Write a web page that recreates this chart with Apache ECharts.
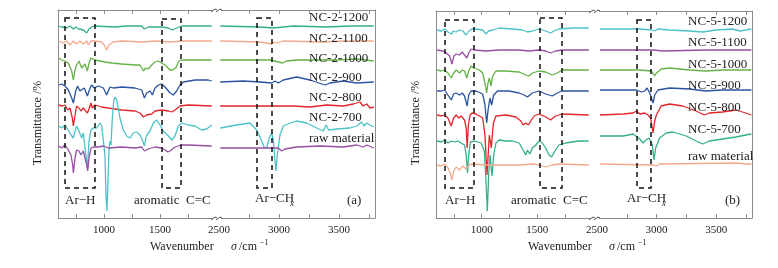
<!DOCTYPE html>
<html>
<head>
<meta charset="utf-8">
<script src="https://cdn.jsdelivr.net/npm/echarts@6/dist/echarts.min.js"></script>
<style>
html, body { margin: 0; padding: 0; background: #fff; }
#chart { width: 778px; height: 268px; }
</style>
</head>
<body>
<div id="chart"></div>
<script>
// FTIR spectra, [wavenumber cm-1, transmittance (offset, a.u.)]
var nc2_1200 = [[595,192],[623,191],[667,190],[697,192],[727,189],[748,191],[777,189],[816,188],[846,185],[867,189],[890,191],[914,192],[1100,191],[1200,192],[1337,192],[1361,189],[1396,191],[1515,191],[1575,190],[1611,188],[1649,190],[1694,192],[1962,192],
    [2510,192],[2842,191],[2953,190],[3120,192],[3397,191],[3592,192],[3790,192]];
var nc2_1100 = [[595,177],[637,175],[667,177],[697,173],[727,177],[756,174],[786,177],[816,174],[846,177],[861,173],[884,177],[914,177],[980,176],[1009,172],[1024,168],[1045,173],[1084,176],[1158,177],[1352,176],[1456,177],[1590,176],[1694,177],[1962,177],
    [2510,177],[2842,176],[2939,174],[2958,176],[2981,175],[3036,177],[3369,176],[3536,177],[3790,177]];
var nc2_1000 = [[595,160],[623,158],[652,157],[682,155],[712,147],[727,138],[742,148],[756,153],[777,157],[801,150],[816,152],[831,154],[852,147],[867,155],[884,160],[896,160],[920,158],[1009,156],[1069,155],[1158,154],[1277,153],[1322,153],[1352,147],[1372,150],[1396,149],[1426,153],[1456,156],[1486,157],[1515,155],[1545,153],[1590,148],[1611,148],[1640,150],[1670,157],[1694,158],[1962,158],
    [2510,158],[2925,158],[3030,155],[3064,157],[3147,158],[3481,158],[3647,159],[3790,157]];
var nc2_900 = [[595,133],[623,134],[652,132],[682,128],[712,120],[727,115],[748,127],[765,132],[786,127],[801,128],[825,130],[852,122],[870,128],[890,133],[914,130],[950,132],[995,130],[1024,123],[1054,131],[1084,130],[1158,131],[1277,130],[1337,128],[1361,120],[1381,125],[1411,127],[1432,123],[1456,130],[1486,133],[1515,134],[1545,131],[1590,125],[1619,123],[1649,127],[1679,133],[1709,136],[1813,138],[1932,138],[1962,137],
    [2510,136],[2703,137],[2842,136],[2939,135],[2967,137],[2994,135],[3036,138],[3147,141],[3258,138],[3383,133],[3425,135],[3536,137],[3647,135],[3790,136]];
var nc2_800 = [[595,113],[608,115],[628,112],[652,113],[676,108],[697,110],[718,100],[727,92],[742,103],[756,112],[777,110],[795,107],[816,110],[831,112],[852,105],[870,110],[884,115],[896,110],[920,113],[980,111],[1039,110],[1158,108],[1277,107],[1322,105],[1352,101],[1381,103],[1426,104],[1456,107],[1515,108],[1575,107],[1605,106],[1634,108],[1679,112],[1753,113],[1962,112],
    [2510,112],[2842,112],[2953,112],[3120,112],[3258,111],[3397,113],[3536,112],[3620,114],[3675,116],[3700,112],[3731,114],[3760,110],[3790,111]];
var nc2_700 = [[595,92],[623,90],[652,93],[682,88],[706,83],[727,80],[742,87],[756,92],[777,87],[801,80],[816,85],[831,83],[852,50],[867,77],[884,88],[905,90],[935,90],[965,95],[980,92],[995,77],[1009,63],[1018,23],[1027,7],[1036,37],[1045,67],[1054,77],[1063,73],[1075,100],[1087,117],[1099,121],[1114,118],[1143,100],[1173,88],[1203,82],[1233,80],[1262,85],[1292,86],[1322,83],[1343,78],[1361,72],[1378,82],[1411,87],[1441,95],[1471,98],[1500,93],[1530,87],[1575,82],[1605,78],[1634,82],[1664,92],[1694,95],[1753,93],[1813,92],[1872,88],[1917,89],[1962,93],
    [2510,90],[2647,93],[2758,95],[2814,88],[2856,77],[2875,71],[2897,70],[2919,80],[2939,85],[2953,77],[2967,57],[2975,47],[2986,63],[3008,83],[3036,92],[3092,95],[3147,97],[3231,95],[3314,90],[3369,87],[3392,93],[3414,88],[3481,89],[3592,90],[3647,92],[3689,96],[3708,92],[3731,95],[3758,93],[3790,91]];
var nc2_raw = [[595,72],[623,70],[652,73],[682,68],[706,63],[721,53],[727,45],[742,60],[756,68],[777,67],[795,63],[816,67],[831,65],[846,53],[855,47],[867,60],[884,70],[905,71],[950,71],[995,72],[1039,70],[1158,71],[1277,70],[1337,71],[1361,67],[1396,69],[1456,71],[1515,70],[1545,68],[1569,66],[1590,67],[1634,71],[1694,73],[1753,73],[1962,72],
    [2510,70],[2842,70],[2994,70],[3022,67],[3050,69],[3147,71],[3342,72],[3536,71],[3647,73],[3703,71],[3731,73],[3790,70]];

var nc5_1200 = [[600,188],[637,187],[667,189],[697,186],[727,184],[748,187],[771,186],[801,188],[831,187],[861,183],[884,187],[914,189],[950,189],[1009,188],[1039,184],[1063,187],[1099,188],[1158,190],[1277,189],[1367,188],[1411,186],[1456,187],[1515,189],[1575,187],[1619,185],[1649,187],[1694,189],[1813,190],[1962,190],
    [2525,189],[2859,189],[2956,188],[2984,187],[3011,189],[3109,188],[3275,187],[3386,186],[3498,188],[3637,189],[3700,187],[3748,188],[3795,189]];
var nc5_1100 = [[600,168],[652,167],[682,165],[712,162],[733,154],[751,162],[771,164],[801,163],[825,166],[846,163],[867,160],[884,165],[905,169],[935,168],[1039,167],[1158,168],[1337,168],[1426,167],[1515,168],[1575,167],[1619,165],[1664,167],[1724,168],[1962,168],
    [2525,168],[2970,168],[3053,167],[3414,168],[3795,168]];
var nc5_1000 = [[600,148],[637,147],[667,148],[697,145],[727,140],[748,145],[771,148],[801,145],[825,148],[846,147],[867,140],[884,147],[905,152],[926,150],[980,148],[1009,145],[1033,133],[1045,125],[1057,135],[1069,140],[1084,132],[1099,142],[1128,147],[1218,147],[1337,146],[1396,143],[1426,142],[1456,145],[1515,147],[1575,146],[1634,143],[1679,145],[1724,148],[1962,148],
    [2525,148],[2859,148],[2956,147],[2984,142],[2998,145],[3039,149],[3109,150],[3275,148],[3414,147],[3553,148],[3795,148]];
var nc5_900 = [[600,127],[637,127],[667,128],[697,123],[727,118],[748,124],[771,125],[801,123],[825,125],[846,122],[870,112],[884,123],[905,127],[950,127],[1009,124],[1030,113],[1045,95],[1060,110],[1075,120],[1090,113],[1108,123],[1143,127],[1248,127],[1337,125],[1381,123],[1411,121],[1456,125],[1515,127],[1575,124],[1634,122],[1679,125],[1724,127],[1962,127],
    [2525,128],[2831,128],[2873,126],[2900,127],[2920,130],[2942,125],[2970,115],[2984,123],[3011,128],[3109,130],[3275,129],[3414,127],[3553,128],[3664,128],[3795,128]];
var nc5_800 = [[600,103],[637,102],[667,103],[697,100],[727,92],[748,100],[771,103],[795,100],[816,102],[846,98],[861,90],[870,70],[881,93],[896,103],[914,105],[950,104],[1009,100],[1030,83],[1048,43],[1069,83],[1087,70],[1105,95],[1128,102],[1218,103],[1307,101],[1352,97],[1372,93],[1396,95],[1420,93],[1441,97],[1471,102],[1515,104],[1575,101],[1619,98],[1664,102],[1724,104],[1962,103],
    [2525,103],[2720,104],[2803,105],[2831,107],[2859,104],[2900,105],[2928,103],[2950,100],[2970,85],[2984,97],[2998,103],[3039,112],[3109,114],[3220,112],[3331,107],[3400,103],[3442,105],[3553,106],[3664,108],[3748,105],[3795,103]];
var nc5_700 = [[600,77],[637,76],[667,78],[697,75],[727,77],[756,76],[786,77],[816,75],[846,73],[861,63],[873,45],[884,63],[899,76],[935,77],[995,75],[1024,67],[1039,37],[1051,7],[1063,43],[1075,63],[1093,42],[1108,63],[1128,75],[1158,78],[1218,77],[1277,77],[1337,75],[1372,68],[1396,63],[1411,68],[1432,64],[1456,70],[1486,73],[1515,77],[1545,75],[1575,70],[1605,63],[1628,61],[1658,67],[1694,73],[1753,75],[1872,77],[1962,77],
    [2525,82],[2720,82],[2803,84],[2859,79],[2886,75],[2909,78],[2936,80],[2964,73],[2978,58],[2992,70],[3025,80],[3081,85],[3137,86],[3248,82],[3331,77],[3386,74],[3442,77],[3553,79],[3664,81],[3748,83],[3795,84]];
var nc5_raw = [[600,53],[637,52],[667,54],[697,50],[718,45],[733,38],[748,47],[771,51],[801,48],[831,52],[861,49],[884,53],[920,54],[1039,53],[1158,53],[1337,53],[1456,54],[1515,53],[1575,51],[1634,53],[1694,54],[1962,53],
    [2525,54],[2970,53],[2998,52],[3025,54],[3664,55],[3748,54],[3795,54]];

var namesA = ['NC-2-1200', 'NC-2-1100', 'NC-2-1000', 'NC-2-900', 'NC-2-800', 'NC-2-700', 'raw material'];
var namesB = ['NC-5-1200', 'NC-5-1100', 'NC-5-1000', 'NC-5-900', 'NC-5-800', 'NC-5-700', 'raw material'];
var labelTicksLo = [1000, 1500];
var labelTicksHi = [2500, 3000, 3500];
var minorLo = [750, 1000, 1250, 1500, 1750];
var minorHi = [2750, 3000, 3250, 3500, 3750];

var FONT = '"Liberation Serif", "Times New Roman", serif';
var AXIS = '#8c8c8c';

var panels = [
    {
        traces: [nc2_1200, nc2_1100, nc2_1000, nc2_900, nc2_800, nc2_700, nc2_raw],
        names: namesA,
        colors: ['#35b08b', '#f2a98d', '#63b346', '#2c53a2', '#e3262a', '#4dc2c6', '#994ea3'],
        labelX: 309, labelY: [18, 39, 59, 78, 98, 118, 139]
    },
    {
        traces: [nc5_1200, nc5_1100, nc5_1000, nc5_900, nc5_800, nc5_700, nc5_raw],
        names: namesB,
        colors: ['#4dc2c6', '#994ea3', '#63b346', '#2c53a2', '#e3262a', '#35b08b', '#f2a98d'],
        labelX: 688, labelY: [22, 43, 65, 86, 108, 130, 157]
    }
];

var grids = [
    {left: 58, top: 10, width: 158, height: 208},
    {left: 219, top: 10, width: 156, height: 208},
    {left: 436, top: 11, width: 157, height: 207},
    {left: 597, top: 11, width: 155, height: 207}
];

function xAx(g, lo, top) {
    return {
        type: 'value', gridIndex: g,
        min: lo ? 590 : 2500, max: lo ? 2000 : 3800,
        position: top ? 'top' : 'bottom',
        axisLine: {show: true, onZero: false, lineStyle: {color: AXIS, width: 1}},
        axisTick: {show: true, inside: true, length: 4, customValues: lo ? minorLo : minorHi, lineStyle: {color: AXIS}},
        axisLabel: {
            show: !top, customValues: lo ? labelTicksLo : labelTicksHi,
            formatter: function (v) { return String(v); },
            color: '#222', fontFamily: FONT, fontSize: 11, margin: 7
        },
        splitLine: {show: false}
    };
}

var xAxes = [], yAxes = [], series = [], graphic = [];
grids.forEach(function (gr, g) {
    var lo = g % 2 === 0;
    xAxes.push(xAx(g, lo, false));
    xAxes.push(xAx(g, lo, true));
    yAxes.push({
        type: 'value', gridIndex: g, min: 0, max: g < 2 ? 208 : 207,
        position: lo ? 'left' : 'right',
        axisLine: {show: true, lineStyle: {color: AXIS, width: 1}},
        axisTick: {show: false}, axisLabel: {show: false}, splitLine: {show: false}
    });
});

panels.forEach(function (p, pi) {
    p.traces.forEach(function (d, k) {
        [true, false].forEach(function (lo) {
            var g = pi * 2 + (lo ? 0 : 1);
            series.push({
                type: 'line', name: p.names[k],
                xAxisIndex: g * 2, yAxisIndex: g,
                data: d.filter(function (pt) { return lo ? pt[0] < 2250 : pt[0] > 2250; }),
                showSymbol: false, symbol: 'none', silent: true,
                lineStyle: {color: p.colors[k], width: 1.3},
                itemStyle: {color: p.colors[k]},
                z: 2 + k
            });
        });
        graphic.push({
            type: 'text', left: p.labelX, top: p.labelY[k] - 7, z: 20,
            style: {text: p.names[k], fill: '#222', font: '13px ' + FONT}
        });
    });
});

function txt(x, y, s, size, italic) {
    return {type: 'text', x: x, y: y, z: 20,
        style: {text: s, fill: '#222', font: (italic ? 'italic ' : '') + size + 'px ' + FONT, textVerticalAlign: 'middle'}};
}
function box(x, y, w, h) {
    return {type: 'rect', z: 15, shape: {x: x, y: y, width: w, height: h},
        style: {fill: 'none', stroke: '#111', lineWidth: 1.5, lineDash: [5, 4]}};
}
function brk(x, y) {
    return [
        {type: 'rect', z: 16, shape: {x: x - 2, y: y - 2, width: 8, height: 4}, style: {fill: '#fff'}},
        {type: 'polyline', z: 17, shape: {points: [[x - 4, y + 2], [x, y - 1], [x + 2, y]]}, style: {stroke: '#555', lineWidth: 1, fill: 'none'}},
        {type: 'polyline', z: 17, shape: {points: [[x + 1, y + 2], [x + 5, y - 1], [x + 7, y]]}, style: {stroke: '#555', lineWidth: 1, fill: 'none'}}
    ];
}

[0, 1].forEach(function (pi) {
    var dx = pi ? 378 : 0;
    graphic.push({type: 'text', x: 38 + dx, y: 123, rotation: Math.PI / 2, z: 20,
        style: {text: 'Transmittance /%', fill: '#222', font: '12px ' + FONT, textAlign: 'center', textVerticalAlign: 'middle'}});
    graphic.push(txt(150 + dx, 247, 'Wavenumber', 12));
    graphic.push(txt(231 + dx, 247, 'σ', 12, true));
    graphic.push(txt(239 + dx, 247, '/cm', 12));
    graphic.push(txt(260 + dx, 243, '−1', 8));
    graphic = graphic.concat(brk(215 + dx, 10 + pi), brk(215 + dx, 218));
});

// annotations for panel (a) and (b)
graphic.push(txt(65, 201, 'Ar−H', 13), txt(134, 201, 'aromatic  C=C', 13),
    txt(255, 199, 'Ar−CH', 13), txt(290, 204, 'x', 9, true), txt(347, 201, '(a)', 13));
graphic.push(txt(445, 201, 'Ar−H', 13), txt(511, 201, 'aromatic  C=C', 13),
    txt(627, 199, 'Ar−CH', 13), txt(662, 204, 'x', 9, true), txt(725, 201, '(b)', 13));
graphic.push(box(65, 18, 30, 170), box(162, 19, 19, 169), box(257, 18, 15, 170));
graphic.push(box(445, 20, 29, 168), box(540, 18, 22, 170), box(637, 20, 14, 168));

var chart = echarts.init(document.getElementById('chart'), null, {renderer: 'canvas'});
chart.setOption({
    animation: false,
    backgroundColor: '#fff',
    grid: grids,
    xAxis: xAxes,
    yAxis: yAxes,
    series: series,
    graphic: graphic
});
</script>
</body>
</html>
